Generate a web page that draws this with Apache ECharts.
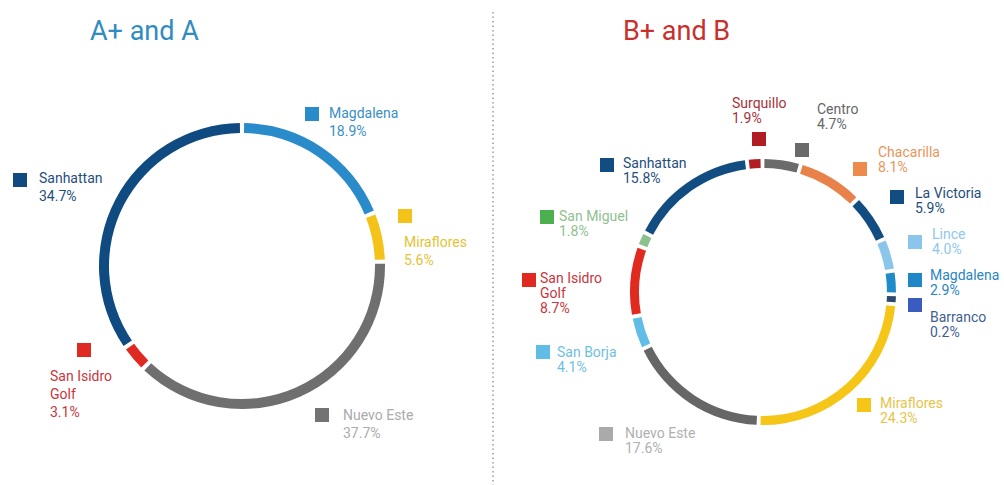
<!DOCTYPE html>
<html>
<head>
<meta charset="utf-8">
<script src="https://cdn.jsdelivr.net/npm/echarts@6/dist/echarts.min.js"></script>
<style>
  html, body { margin: 0; padding: 0; background: #ffffff; }
  #chart { width: 1004px; height: 485px; }
</style>
</head>
<body>
<div id="chart"></div>
<script>
// ---------- data: A+ and A ----------
const leftTitle = 'A+ and A';
const leftCategories = ['Magdalena', 'Miraflores', 'Nuevo Este', 'San Isidro Golf', 'Sanhattan'];
const leftValues = [18.9, 5.6, 37.7, 3.1, 34.7];

// ---------- data: B+ and B ----------
const rightTitle = 'B+ and B';
const rightCategories = ['Surquillo', 'Centro', 'Chacarilla', 'La Victoria', 'Lince', 'Magdalena', 'Barranco',
  'Miraflores', 'Nuevo Este', 'San Borja', 'San Isidro Golf', 'San Miguel', 'Sanhattan'];
const rightValues = [1.9, 4.7, 8.1, 5.9, 4.0, 2.9, 0.2, 24.3, 17.6, 4.1, 8.7, 1.8, 15.8];

// ---------- styles ----------
const leftRingColors = ['#2a8bcb', '#f3c31a', '#6f6f6f', '#de2a22', '#0f4a80'];
const leftSwatchColors = ['#2a8bcb', '#f3c31a', '#737373', '#de2a22', '#0f4a80'];
const leftTextColors = ['#3a8fc4', '#e6c236', '#ababab', '#c8363c', '#1f4e7c'];

const rightRingColors = ['#b01e23', '#6b6b6b', '#e8824a', '#124d82', '#8ac6ec', '#1f8bc8', '#2c4a6e',
  '#f5c518', '#666666', '#5fbde6', '#e02a20', '#8cc08c', '#124d82'];
const rightSwatchColors = ['#b01e23', '#6a6a6a', '#ec8b4b', '#124d82', '#8ac6ec', '#1f86c8', '#3a5bbf',
  '#f5c518', '#aaaaaa', '#5fbde6', '#e02a20', '#4caf50', '#124d82'];
const rightTextColors = ['#a8303a', '#666666', '#e8965a', '#1f4e7c', '#8ec8ec', '#2a86c4', '#3f5f8f',
  '#e6c44a', '#b0b0b0', '#70bfe0', '#c8363c', '#8fc08f', '#1f4e7c'];

// ---------- label placement (layout, px) ----------
const leftLabelAt = [[329, 104], [404, 233], [343, 406], [50, 367], [39, 169]];
const leftSwatchAt = [[305, 107], [398, 209], [315, 408], [77, 343], [13, 173]];
const rightLabelAt = [[732, 95], [817, 101], [878, 144], [915, 185], [932, 226], [930, 267], [930, 309],
  [880, 395], [625, 425], [557, 344], [540, 270], [559, 208], [623, 155]];
const rightSwatchAt = [[752, 132], [795, 143], [853, 162], [890, 190], [908, 235], [908, 273], [908, 298],
  [857, 398], [599, 427], [536, 345], [522, 273], [540, 210], [600, 158]];

const FONT = 'Roboto';

function wrapName(name) {
  if (name.length <= 11) return [name];
  const i = name.lastIndexOf(' ');
  return [name.slice(0, i), name.slice(i + 1)];
}

function buildRing(cats, vals, ringColors, textColors, center, radius, startAngle, lineH, labelAt) {
  return {
    type: 'pie',
    center: center,
    radius: radius,
    startAngle: startAngle,
    clockwise: true,
    padAngle: 1.7,
    minAngle: 2.6,
    avoidLabelOverlap: false,
    silent: true,
    emphasis: { disabled: true },
    labelLine: { show: false },
    label: {
      show: true,
      position: 'outside',
      fontFamily: FONT,
      fontSize: 14,
      lineHeight: lineH,
      formatter: function (p) {
        const lines = wrapName(p.name).map(s => '{n|' + s + '}');
        lines.push('{n|' + p.value.toFixed(1) + '%}');
        return lines.join('\n');
      },
      rich: { n: { fontFamily: FONT, fontSize: 14, lineHeight: lineH } }
    },
    labelLayout: function (p) {
      const a = labelAt[p.dataIndex];
      return { x: a[0], y: a[1], align: 'left', verticalAlign: 'top' };
    },
    data: cats.map((c, i) => ({
      name: c,
      value: vals[i],
      itemStyle: { color: ringColors[i] },
      label: { color: textColors[i], rich: { n: { color: textColors[i], fontFamily: FONT, fontSize: 14, lineHeight: lineH } } }
    }))
  };
}

function buildSwatches(cats, vals, swatchColors, center, radius, startAngle, swatchAt) {
  return {
    type: 'pie',
    center: center,
    radius: radius,
    startAngle: startAngle,
    silent: true,
    avoidLabelOverlap: false,
    emphasis: { disabled: true },
    labelLine: { show: false },
    itemStyle: { color: 'rgba(0,0,0,0)' },
    label: { show: true, position: 'outside', formatter: '{sq|}' },
    labelLayout: function (p) {
      const a = swatchAt[p.dataIndex];
      return { x: a[0], y: a[1], align: 'left', verticalAlign: 'top' };
    },
    data: cats.map((c, i) => ({
      name: c,
      value: vals[i],
      label: {
        formatter: '{sq|}',
        rich: { sq: { width: 14, height: 14, backgroundColor: swatchColors[i] } }
      }
    }))
  };
}

const chart = echarts.init(document.getElementById('chart'), null, { renderer: 'svg' });

const leftCenter = [242, 266], leftRadius = [133, 143];
const rightCenter = [763, 292], rightRadius = [124, 133];

chart.setOption({
  backgroundColor: '#ffffff',
  animation: false,
  title: [
    { text: leftTitle, left: 90, top: 17, padding: 0, textStyle: { fontFamily: FONT, fontSize: 27, fontWeight: 'normal', color: '#2f8cc0' } },
    { text: rightTitle, left: 623, top: 17, padding: 0, textStyle: { fontFamily: FONT, fontSize: 27, fontWeight: 'normal', color: '#c9302c' } }
  ],
  graphic: [
    { type: 'line', silent: true, shape: { x1: 493, y1: 12, x2: 493, y2: 485 },
      style: { stroke: '#9a9a9a', lineWidth: 1.5, lineDash: [1.5, 3] } }
  ],
  series: [
    buildRing(leftCategories, leftValues, leftRingColors, leftTextColors, leftCenter, leftRadius, 90, 18, leftLabelAt),
    buildSwatches(leftCategories, leftValues, leftSwatchColors, leftCenter, leftRadius, 90, leftSwatchAt),
    buildRing(rightCategories, rightValues, rightRingColors, rightTextColors, rightCenter, rightRadius, 97, 15, rightLabelAt),
    buildSwatches(rightCategories, rightValues, rightSwatchColors, rightCenter, rightRadius, 97, rightSwatchAt)
  ]
});
</script>
</body>
</html>
